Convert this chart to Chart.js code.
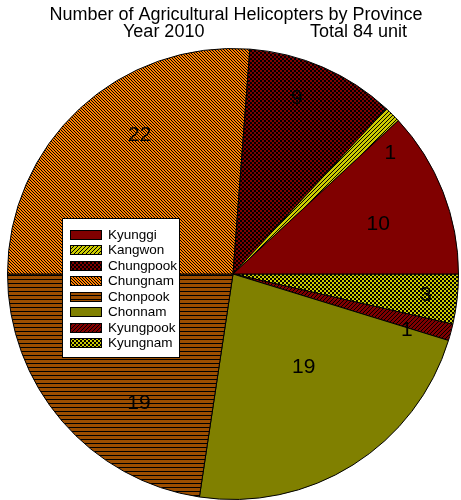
<!DOCTYPE html>
<html>
<head>
<meta charset="utf-8">
<script src="https://cdn.jsdelivr.net/npm/chart.js@4/dist/chart.umd.min.js"></script>
<style>
  html, body { margin: 0; padding: 0; background: #fff; }
  canvas { display: block; }
</style>
</head>
<body>
<canvas id="chart" width="461" height="500"></canvas>
<script>
// Helicopter counts per province (legend order)
const provinces = ['Kyunggi', 'Kangwon', 'Chungpook', 'Chungnam', 'Chonpook', 'Chonnam', 'Kyungpook', 'Kyungnam'];
const helicopters = [10, 1, 9, 22, 19, 19, 1, 3];
const titleText = 'Number of Agricultural Helicopters by Province';
const yearText = 'Year 2010';
const totalText = 'Total ' + helicopters.reduce((a, b) => a + b, 0) + ' unit';

// Fill style per province: base colour plus a hatch kind
const fillStyles = [
  { base: '#800000', kind: 'solid' },
  { base: '#cccc00', kind: 'diagUp' },
  { base: '#800000', kind: 'checker' },
  { base: '#ff8000', kind: 'diagDown' },
  { base: '#9c4e00', kind: 'hlines' },
  { base: '#808000', kind: 'solid' },
  { base: '#800000', kind: 'diagUp' },
  { base: '#cccc00', kind: 'checker' }
];

// Value label placement: [angle shift from slice middle (deg), fraction of radius]
const labelPlacement = [
  [2.6, 0.68], [7.4, 0.88], [-3.6, 0.83], [8.9, 0.74],
  [-13.3, 0.71], [-4.9, 0.52], [3.0, 0.81], [-0.2, 0.86]
];

function makeFill(style) {
  if (style.kind === 'solid') return style.base;
  const s = style.kind === 'diagDown' ? 3 : 4;
  const c = document.createElement('canvas');
  c.width = s; c.height = s;
  const g = c.getContext('2d');
  g.fillStyle = style.base;
  g.fillRect(0, 0, s, s);
  g.fillStyle = '#000';
  if (style.kind === 'diagUp') {
    for (let i = 0; i < s; i++) g.fillRect((s - 1 - i), i, 1, 1);
  } else if (style.kind === 'diagDown') {
    for (let i = 0; i < s; i++) g.fillRect(i, i, 1, 1);
  } else if (style.kind === 'hlines') {
    g.fillRect(0, s - 1, s, 1);
  } else if (style.kind === 'checker') {
    g.fillRect(0, 0, s / 2, s / 2);
    g.fillRect(s / 2, s / 2, s / 2, s / 2);
  }
  return g.createPattern(c, 'repeat');
}

const fills = fillStyles.map(makeFill);

// Slices run counter-clockwise from 3 o'clock, so feed the data reversed
// into Chart.js (which draws clockwise) starting at 90° rotation.
const order = provinces.map((_, i) => provinces.length - 1 - i);

const FONT = '"Liberation Sans", Arial, sans-serif';

const titlePlugin = {
  id: 'twoLineTitle',
  afterDraw(chart) {
    const ctx = chart.ctx;
    ctx.save();
    ctx.fillStyle = '#000';
    ctx.font = '18px ' + FONT;
    ctx.textBaseline = 'alphabetic';
    ctx.textAlign = 'center';
    ctx.fillText(titleText, 236, 20);
    ctx.textAlign = 'left';
    ctx.fillText(yearText, 123, 37);
    ctx.fillText(totalText, 310, 37);
    ctx.restore();
  }
};

const valueLabelPlugin = {
  id: 'valueLabels',
  afterDatasetsDraw(chart) {
    const ctx = chart.ctx;
    const meta = chart.getDatasetMeta(0);
    ctx.save();
    ctx.fillStyle = '#000';
    ctx.font = '21px ' + FONT;
    ctx.textAlign = 'center';
    ctx.textBaseline = 'middle';
    meta.data.forEach((arc, i) => {
      const p = order[i];
      const [shift, frac] = labelPlacement[p];
      const a = (arc.startAngle + arc.endAngle) / 2 + shift * Math.PI / 180;
      const r = arc.outerRadius * frac;
      ctx.fillText(String(chart.data.datasets[0].data[i]), arc.x + r * Math.cos(a), arc.y + r * Math.sin(a));
    });
    ctx.restore();
  }
};

const legendPlugin = {
  id: 'boxLegend',
  afterDraw(chart) {
    const ctx = chart.ctx;
    const box = { x: 62.5, y: 218.5, w: 117, h: 139 };
    const rowH = 15.5;
    ctx.save();
    ctx.fillStyle = '#fff';
    ctx.fillRect(box.x, box.y, box.w, box.h);
    ctx.strokeStyle = '#000';
    ctx.lineWidth = 1;
    ctx.strokeRect(box.x, box.y, box.w, box.h);
    ctx.font = '13.5px ' + FONT;
    ctx.textBaseline = 'middle';
    ctx.textAlign = 'left';
    provinces.forEach((name, i) => {
      const cy = box.y + 16 + i * rowH;
      ctx.fillStyle = fills[i];
      ctx.fillRect(71, Math.round(cy - 4), 30, 8);
      ctx.strokeStyle = '#000';
      ctx.strokeRect(70.5, Math.round(cy - 4) - 0.5, 31, 9);
      ctx.fillStyle = '#000';
      ctx.fillText(name, 108, cy + 0.5);
    });
    ctx.restore();
  }
};

new Chart(document.getElementById('chart'), {
  type: 'pie',
  data: {
    labels: order.map(i => provinces[i]),
    datasets: [{
      data: order.map(i => helicopters[i]),
      backgroundColor: order.map(i => fills[i]),
      borderColor: '#000',
      borderWidth: 1
    }]
  },
  options: {
    responsive: false,
    animation: false,
    events: [],
    rotation: 90,
    layout: { padding: { top: 48, left: 5, right: 0, bottom: 0 } },
    plugins: {
      legend: { display: false },
      title: { display: false },
      tooltip: { enabled: false }
    }
  },
  plugins: [valueLabelPlugin, legendPlugin, titlePlugin]
});
</script>
</body>
</html>
